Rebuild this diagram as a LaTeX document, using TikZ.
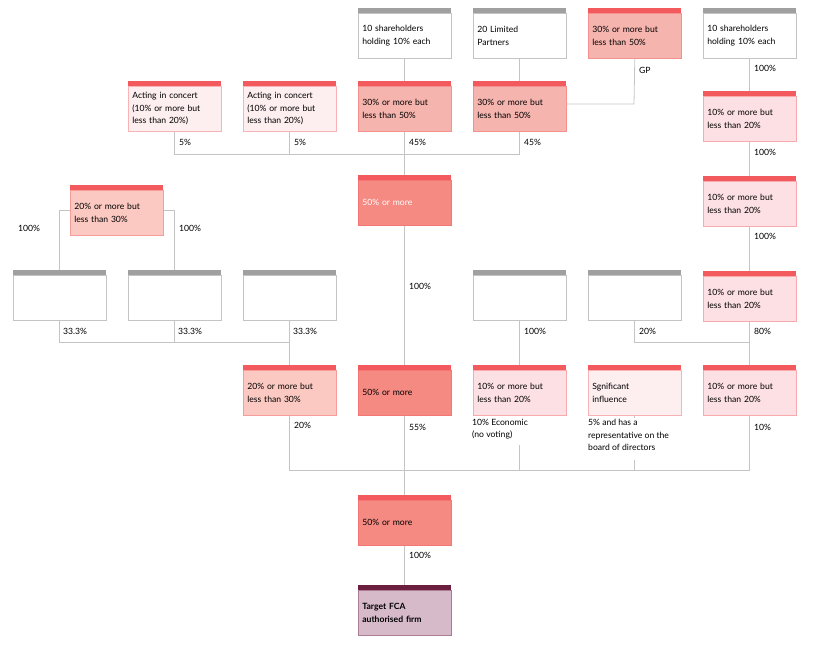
\documentclass[tikz,border=0pt]{standalone}
\usepackage{fontspec}
\setmainfont{Lato}
\definecolor{bar}{HTML}{F25A5E}
\definecolor{gbar}{HTML}{A0A0A0}
\definecolor{ln}{HTML}{C4C4C4}
\definecolor{cA}{HTML}{FDEEF0}
\definecolor{cB}{HTML}{FDE0E3}
\definecolor{cC}{HTML}{FBC9C1}
\definecolor{cD}{HTML}{F6B4AE}
\definecolor{cE}{HTML}{F48A82}
\definecolor{cT}{HTML}{D6BACA}
\definecolor{tbar}{HTML}{6B1E3E}
\begin{document}
\begin{tikzpicture}[x=1pt,y=-1pt,
  bx/.style={draw=#1!60!bar,line width=0.6pt,anchor=north west,minimum width=93pt,minimum height=45pt,text width=85pt,align=left,inner sep=0pt,font=\fontsize{8.6}{12.5}\selectfont},
  gx/.style={draw=ln,fill=white,line width=0.6pt,anchor=north west,minimum width=93pt,minimum height=45pt,text width=85pt,align=left,inner sep=0pt,font=\fontsize{8.6}{12.5}\selectfont},
  cn/.style={draw=ln,line width=0.8pt},
  lb/.style={anchor=west,inner sep=0pt,font=\fontsize{8.6}{12.5}\selectfont}]
\useasboundingbox (0,0) rectangle (813,645);
\newcommand\pb[5]{\node[bx=#4,fill=#4] (#1) at (#2,#3+5) {#5};
  \fill[bar] (#2-0.3,#3) rectangle (#2+93.3,#3+5);}
\newcommand\gb[4]{\node[gx] (#1) at (#2,#3+5) {#4};
  \fill[gbar] (#2-0.3,#3) rectangle (#2+93.3,#3+5);}
% row0
\gb{s1}{358}{8}{10 shareholders\\holding 10\% each}
\gb{lp}{473}{8}{20 Limited\\Partners}
\pb{gp}{588}{8}{cD}{30\% or more but\\less than 50\%}
\gb{s2}{703}{8}{10 shareholders\\holding 10\% each}
% row1
\pb{a1}{128}{81}{cA}{Acting in concert\\(10\% or more but\\less than 20\%)}
\pb{a2}{243}{81}{cA}{Acting in concert\\(10\% or more but\\less than 20\%)}
\pb{b1}{358}{81}{cD}{30\% or more but\\less than 50\%}
\pb{b2}{473}{81}{cD}{30\% or more but\\less than 50\%}
\pb{r1}{703}{91}{cB}{10\% or more but\\less than 20\%}
% row2
\pb{m1}{358}{175}{cE}{\color{white}50\% or more}
\pb{l1}{70}{185}{cC}{20\% or more but\\less than 30\%}
\pb{r2}{703}{176}{cB}{10\% or more but\\less than 20\%}
% row3
\gb{e1}{13}{270}{}
\gb{e2}{128}{270}{}
\gb{e3}{243}{270}{}
\gb{e4}{473}{270}{}
\gb{e5}{588}{270}{}
\pb{r3}{703}{271}{cB}{10\% or more but\\less than 20\%}
% row4
\pb{f1}{243}{365}{cC}{20\% or more but\\less than 30\%}
\pb{f2}{358}{365}{cE}{50\% or more}
\pb{f3}{473}{365}{cB}{10\% or more but\\less than 20\%}
\pb{f4}{588}{365}{cA}{Sgnificant\\influence}
\pb{f5}{703}{365}{cB}{10\% or more but\\less than 20\%}
% row5,6
\pb{g1}{358}{495}{cE}{50\% or more}
\node[bx=cT,fill=cT,draw=tbar!40!cT,font=\bfseries\fontsize{8.6}{12.5}\selectfont] (t) at (358,590) {Target FCA\\authorised firm};
\fill[tbar] (357.7,585) rectangle (451.3,590);
% coordinates
\coordinate (j1) at (404,154);
\coordinate (j2) at (404,342);
\coordinate (j3) at (289,342);
\coordinate (j4) at (404,470);
\coordinate (gpj) at (634,104);
\coordinate (k5) at (634,342);
\coordinate (lft) at (59,210);
\coordinate (rgt) at (174,210);
% connectors
\draw[cn] (s1.south) -- ([yshift=5]b1.north);
\draw[cn] (lp.south) -- ([yshift=5]b2.north);
\draw[cn] (gp.south) -- (gpj) -- (b2.east|-gpj);
\draw[cn] (a1.south) |- (j1);
\draw[cn] (a2.south) |- (j1);
\draw[cn] (b2.south) |- (j1);
\draw[cn] (b1.south) -- ([yshift=5]m1.north);
\draw[cn] (m1.south) -- ([yshift=5]f2.north);
\draw[cn] (l1.west|-lft) -- (lft) -- ([yshift=5]e1.north-|lft);
\draw[cn] (l1.east|-rgt) -- (rgt) -- ([yshift=5]e2.north-|rgt);
\draw[cn] (e1.south) |- (j3);
\draw[cn] (e2.south) -- ++(0,22);
\draw[cn] (e3.south) -- ([yshift=5]f1.north);
\draw[cn] (e4.south) -- ([yshift=5]f3.north);
\draw[cn] (e5.south) |- (r3.south|-k5);
\draw[cn] (s2.south) -- ([yshift=5]r1.north);
\draw[cn] (r1.south) -- ([yshift=5]r2.north);
\draw[cn] (r2.south) -- ([yshift=5]r3.north);
\draw[cn] (r3.south) -- ([yshift=5]f5.north);
\draw[cn] (f1.south) |- (j4);
\draw[cn] (f5.south) |- (j4);
\draw[cn] (f2.south) -- ([yshift=5]g1.north);
\draw[cn] (519,445) -- (519,470);
\draw[cn] (f4.south) -- ++(0,2);
\draw[cn] (634,460) -- (634,470);
\draw[cn] (g1.south) -- ([yshift=5]t.north);
% labels
\node[lb] at (179,142) {5\%};
\node[lb] at (294,142) {5\%};
\node[lb] at (409,142) {45\%};
\node[lb] at (524,142) {45\%};
\node[lb] at (639,70) {GP};
\node[lb] at (754,68) {100\%};
\node[lb] at (754,152) {100\%};
\node[lb] at (754,236) {100\%};
\node[lb] at (754,331) {80\%};
\node[lb] at (18,228) {100\%};
\node[lb] at (179,228) {100\%};
\node[lb] at (409,286) {100\%};
\node[lb] at (63,331) {33.3\%};
\node[lb] at (178,331) {33.3\%};
\node[lb] at (293,331) {33.3\%};
\node[lb] at (524,331) {100\%};
\node[lb] at (639,331) {20\%};
\node[lb] at (294,425) {20\%};
\node[lb] at (409,427) {55\%};
\node[lb] at (754,427) {10\%};
\node[lb,anchor=north west,align=left] at (472,419) {10\% Economic\\(no voting)};
\node[lb,anchor=north west,align=left] at (588,419) {5\% and has a\\representative on the\\board of directors};
\node[lb] at (409,555) {100\%};
\end{tikzpicture}
\end{document}
